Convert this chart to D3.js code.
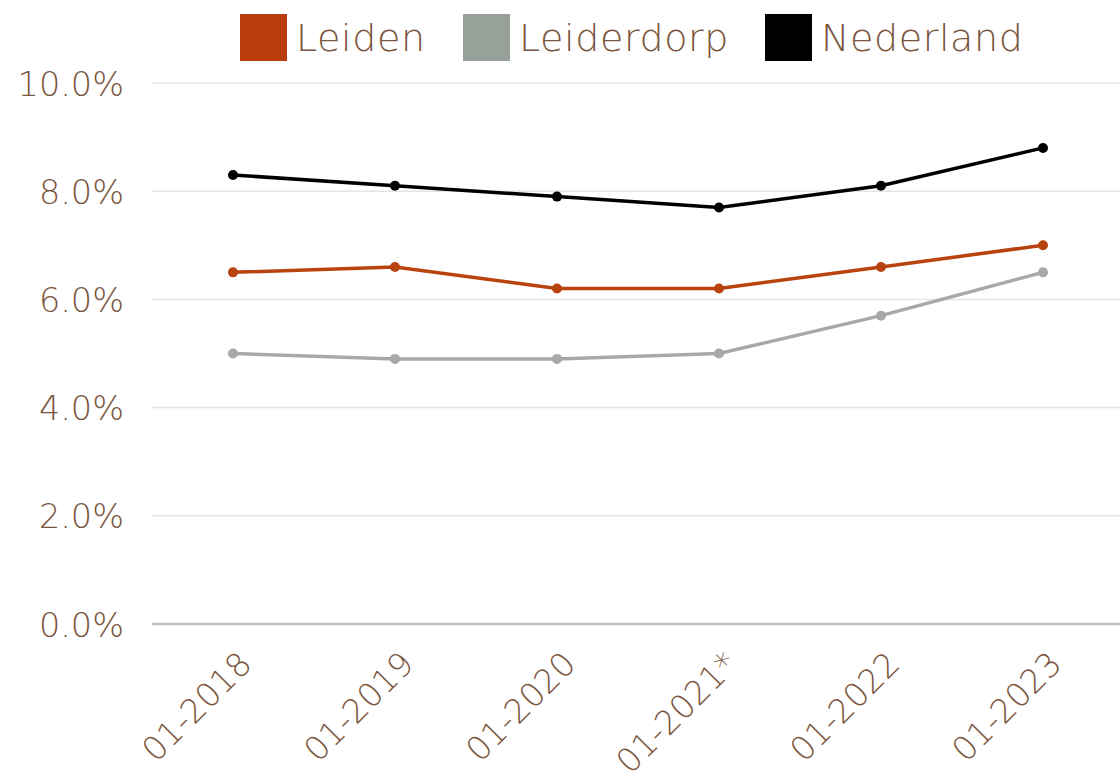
<!DOCTYPE html>
<html><head><meta charset="utf-8">
<script src="https://cdn.jsdelivr.net/npm/d3@7"></script>
<style>body{margin:0;background:#fff}svg{display:block}text{font-family:"DejaVu Sans","Noto Sans",sans-serif;font-weight:200;fill:#7a5640}</style>
</head><body><svg id="c" width="1120" height="779"></svg>
<script>
const categories = ["01-2018","01-2019","01-2020","01-2021*","01-2022","01-2023"];
const leiden = [6.5,6.6,6.2,6.2,6.6,7.0];
const leiderdorp = [5.0,4.9,4.9,5.0,5.7,6.5];
const nederland = [8.3,8.1,7.9,7.7,8.1,8.8];
const yTicks = [0,2,4,6,8,10];
const seriesNames = ["Leiden","Leiderdorp","Nederland"];
const seriesColors = ["#b8430f","#a8a8a8","#000000"];
const swatchColors = ["#b83c0c","#98a09a","#000000"];

const svg = d3.select("#c");
const M = {left:152, right:1120, top:83, bottom:624};
const x = d3.scalePoint().domain(categories).range([233, 1043]);
const y = d3.scaleLinear().domain([0,10]).range([M.bottom, M.top]);

// grid
svg.append("g").selectAll("line").data(yTicks.filter(d=>d>0)).join("line")
  .attr("x1", M.left).attr("x2", M.right).attr("y1", d=>y(d)).attr("y2", d=>y(d))
  .attr("stroke","#e8e4de").attr("stroke-width",1.5);
svg.append("line").attr("x1",M.left).attr("x2",M.right).attr("y1",y(0)).attr("y2",y(0))
  .attr("stroke","#bdbdbd").attr("stroke-width",2.5);

// y labels
const yAxis = d3.axisLeft(y).tickValues(yTicks).tickFormat(d=>d.toFixed(1)+"%").tickSize(0);
const gy = svg.append("g").attr("transform",`translate(124,0)`).call(yAxis);
gy.select(".domain").remove();
gy.selectAll("text").style("font-size","33.5px").attr("x",0).attr("dy","0.36em");

// x labels
const xAxis = d3.axisBottom(x).tickSize(0);
const gx = svg.append("g").attr("transform",`translate(0,${M.bottom})`).call(xAxis);
gx.select(".domain").remove();
gx.selectAll("text").style("font-size","33px").attr("text-anchor","end")
  .attr("x",0).attr("y",0).attr("dy",0)
  .attr("transform","translate(20,42) rotate(-45)");

// lines
const data = [leiden, leiderdorp, nederland];
const line = d3.line().x((d,i)=>x(categories[i])).y(d=>y(d));
data.forEach((vals,k)=>{
  const g = svg.append("g");
  g.append("path").datum(vals).attr("d",line).attr("fill","none")
    .attr("stroke",seriesColors[k]).attr("stroke-width",3.5);
  g.selectAll("circle").data(vals).join("circle")
    .attr("cx",(d,i)=>x(categories[i])).attr("cy",d=>y(d)).attr("r",5)
    .attr("fill",seriesColors[k]);
});

// legend
const legX = [240, 463, 765];
const lg = svg.append("g");
seriesNames.forEach((n,k)=>{
  lg.append("rect").attr("x",legX[k]).attr("y",14).attr("width",47).attr("height",47).attr("fill",swatchColors[k]);
  lg.append("text").attr("x",legX[k]+56).attr("y",51).style("font-size","38px").style("letter-spacing","0.6px").text(n);
});
</script></body></html>
